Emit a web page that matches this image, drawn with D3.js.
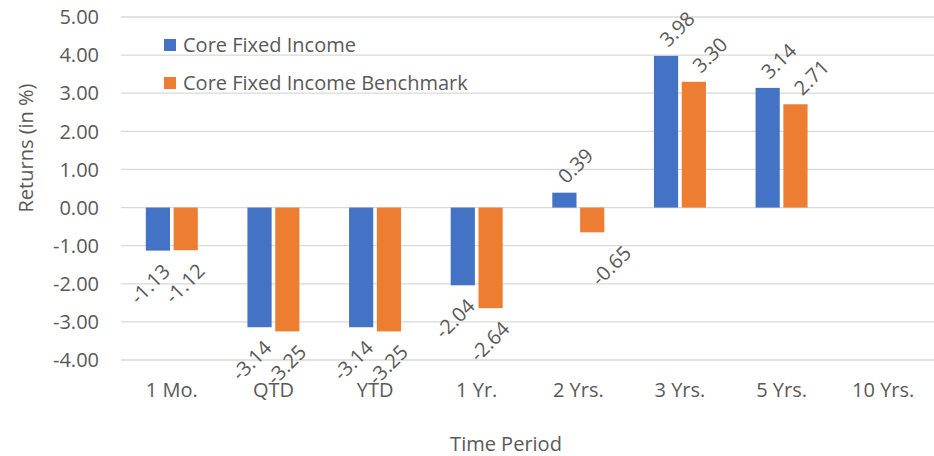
<!DOCTYPE html>
<meta charset="utf-8">
<title>Core Fixed Income Returns</title>
<style>
  body { margin: 0; background: #fff; }
  text { font-family: "Open Sans", sans-serif; fill: #595959; }
</style>
<body>
  <div id="container"></div>
  <script src="https://cdn.jsdelivr.net/npm/d3@7/dist/d3.min.js"></script>
  <script>

    const width = 934;
    const height = 456;

    // data
    const periods = ["1 Mo.", "QTD", "YTD", "1 Yr.", "2 Yrs.", "3 Yrs.", "5 Yrs.", "10 Yrs."];
    const seriesNames = ["Core Fixed Income", "Core Fixed Income Benchmark"];
    const coreValues = [-1.13, -3.14, -3.14, -2.04, 0.39, 3.98, 3.14, null];
    const benchValues = [-1.12, -3.25, -3.25, -2.64, -0.65, 3.30, 2.71, null];
    const yTicks = [-4, -3, -2, -1, 0, 1, 2, 3, 4, 5];
    const colors = ["#4472C4", "#ED7D31"];

    // plain hyphen for negatives, like the original
    const fmt = v => d3.format('.2f')(v).replace('\u2212', '-');

    const svg = d3.select('#container')
      .append('svg')
      .attr('width', width)
      .attr('height', height);

    const x = d3.scaleBand()
      .domain(periods)
      .range([121, 934]);

    const inner = d3.scaleBand()
      .domain(seriesNames)
      .range([x.bandwidth() / 2 - 26, x.bandwidth() / 2 + 26])
      .paddingInner(0.13);

    const y = d3.scaleLinear()
      .domain([-4, 5])
      .range([360, 17]);

    // gridlines
    svg.append('g')
      .selectAll('line')
      .data(yTicks)
      .join('line')
      .attr('x1', 121)
      .attr('x2', 934)
      .attr('y1', d => y(d))
      .attr('y2', d => y(d))
      .attr('stroke', '#d9d9d9')
      .attr('stroke-width', 1.3);

    // y tick labels
    svg.append('g')
      .selectAll('text')
      .data(yTicks)
      .join('text')
      .attr('x', 99)
      .attr('y', d => y(d))
      .attr('dy', '0.36em')
      .attr('text-anchor', 'end')
      .style('font-size', '20px')
      .text(d => fmt(d));

    // x tick labels
    svg.append('g')
      .selectAll('text')
      .data(periods)
      .join('text')
      .attr('x', d => x(d) + x.bandwidth() / 2)
      .attr('y', 397)
      .attr('text-anchor', 'middle')
      .style('font-size', '20px')
      .text(d => d);

    // bars
    const table = periods.map((p, i) => [
      { period: p, s: 0, series: seriesNames[0], value: coreValues[i], color: colors[0] },
      { period: p, s: 1, series: seriesNames[1], value: benchValues[i], color: colors[1] }
    ]).flat().filter(d => d.value !== null);

    svg.append('g')
      .selectAll('rect')
      .data(table)
      .join('rect')
      .attr('x', d => x(d.period) + inner(d.series))
      .attr('width', inner.bandwidth())
      .attr('y', d => y(Math.max(0, d.value)))
      .attr('height', d => Math.abs(y(d.value) - y(0)))
      .attr('fill', d => d.color);

    // value labels, rotated 45 degrees, placed outside the bar end
    const labels = svg.append('g')
      .selectAll('text')
      .data(table)
      .join('text')
      .attr('text-anchor', 'middle')
      .attr('dy', '0.36em')
      .style('font-size', '20px')
      .text(d => fmt(d.value));

    labels.attr('transform', function(d) {
      const cx = x(d.period) + inner(d.series) + inner.bandwidth() / 2;
      const half = (this.getComputedTextLength() + 14) * Math.SQRT1_2 / 2;
      let lx, ly;
      if (d.value >= 0) {
        lx = cx + 11 + d.s * 5;
        ly = y(d.value) - 8 - half;
      } else {
        lx = cx - 8 + d.s * 7;
        ly = y(d.value) + 12 + half;
        // the short 2 Yrs. benchmark label sits further right in the original
        if (d.period === "2 Yrs.") lx += 20;
      }
      return `translate(${lx},${ly}) rotate(-45)`;
    });

    // legend
    const legend = svg.append('g')
      .selectAll('g')
      .data(seriesNames)
      .join('g')
      .attr('transform', (d, i) => `translate(164,${39 + i * 38})`);

    legend.append('rect')
      .attr('width', 12)
      .attr('height', 12)
      .attr('fill', (d, i) => colors[i]);

    legend.append('text')
      .attr('x', 19)
      .attr('y', 13)
      .style('font-size', '20px')
      .text(d => d);

    // axis titles
    svg.append('text')
      .attr('transform', 'translate(33,148) rotate(-90)')
      .attr('text-anchor', 'middle')
      .style('font-size', '20px')
      .text('Returns (in %)');

    svg.append('text')
      .attr('x', 506)
      .attr('y', 451)
      .attr('text-anchor', 'middle')
      .style('font-size', '20px')
      .text('Time Period');

  </script>
</body>
